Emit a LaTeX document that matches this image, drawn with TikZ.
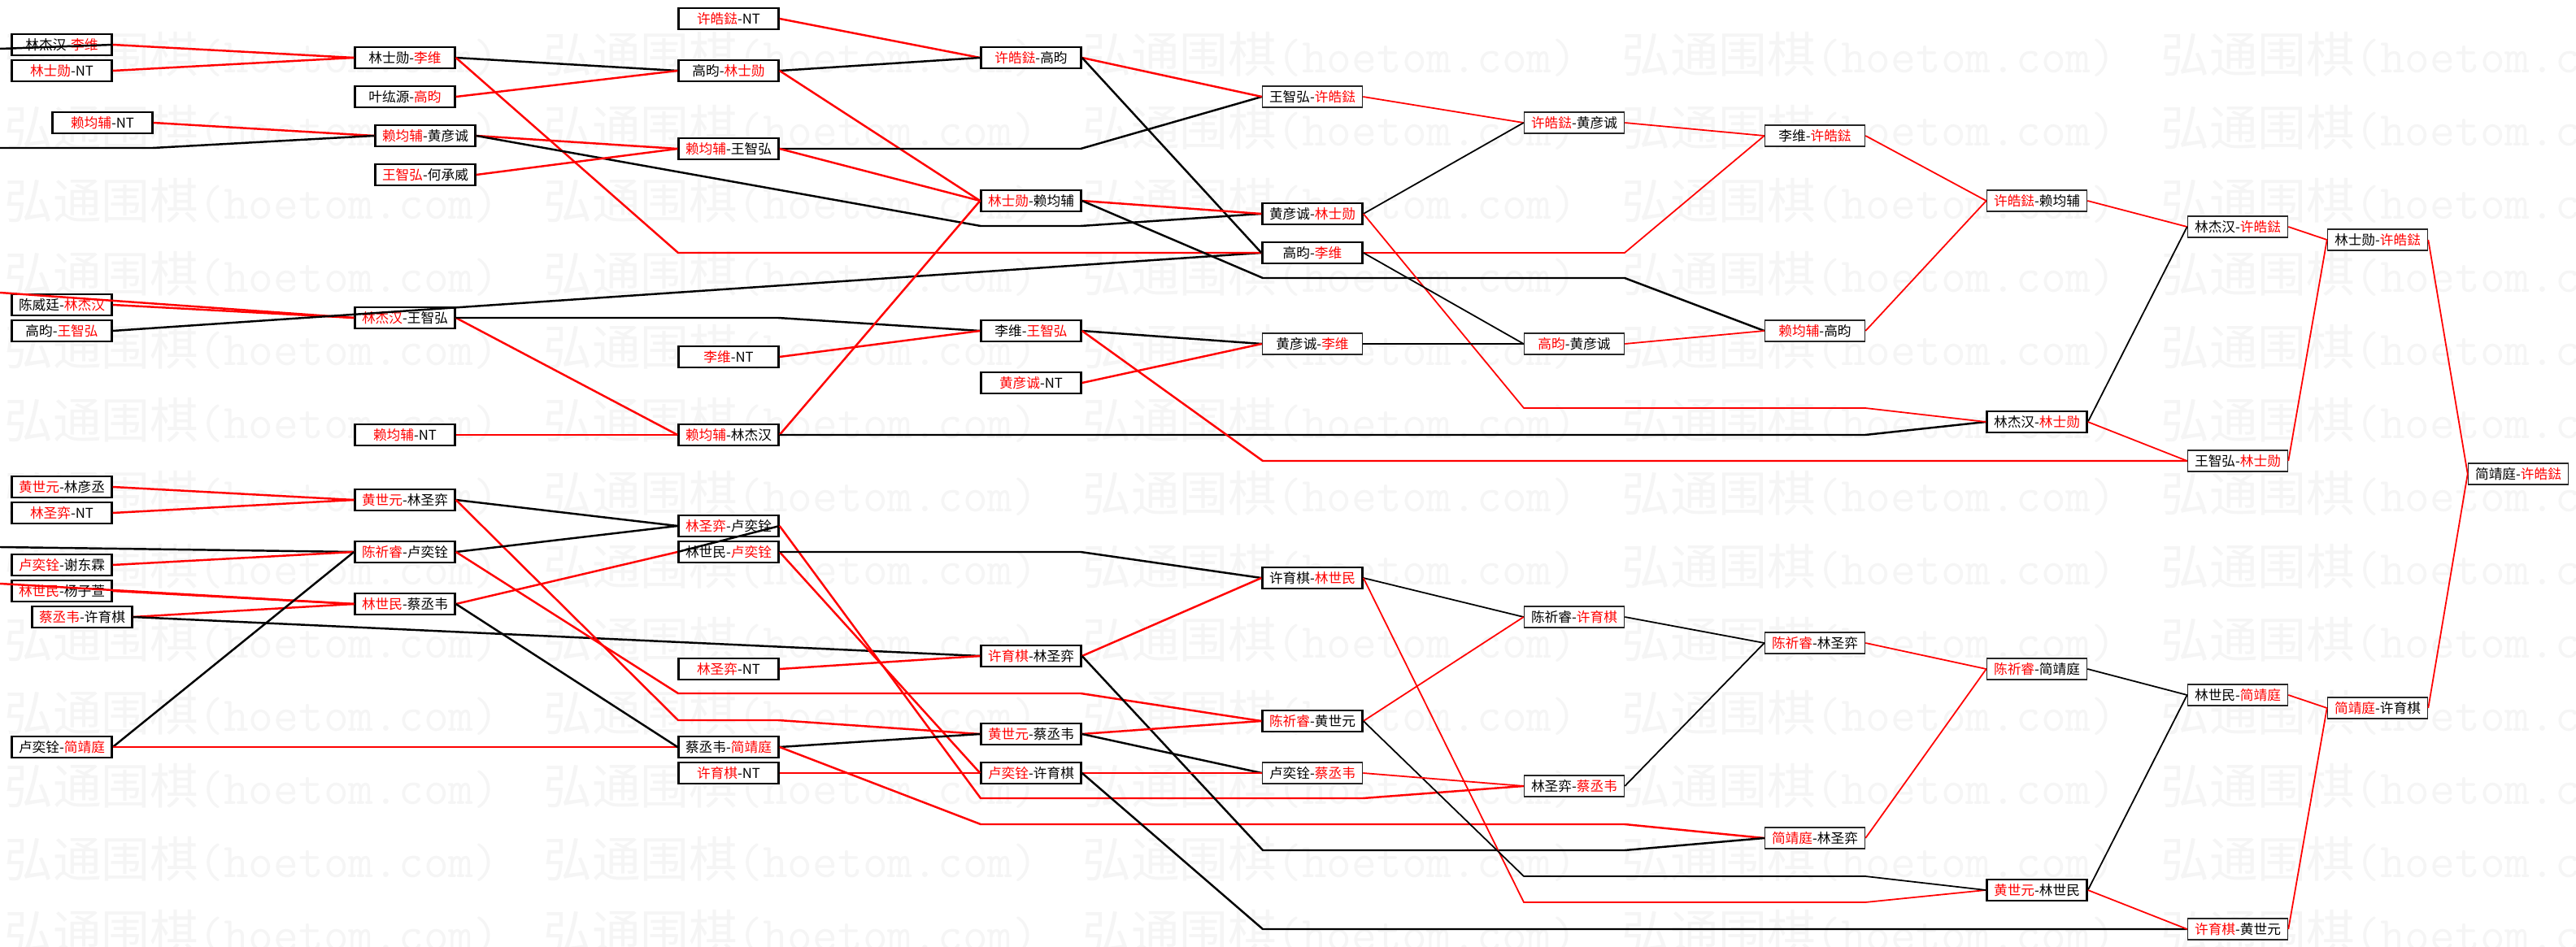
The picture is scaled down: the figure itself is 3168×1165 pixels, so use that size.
\documentclass[tikz,border=0pt]{standalone}
\usepackage{fontspec}
\newfontfamily\cjk{Noto Sans CJK SC}
\usepackage{xcolor}
\usepackage{tikz}
\newcommand{\redl}[2]{\textcolor{red}{#1}-#2}
\newcommand{\redr}[2]{#1-\textcolor{red}{#2}}
\tikzset{
  match/.style={draw=black, line width=1.4pt, fill=white, minimum width=2.46cm, minimum height=0.52cm, inner sep=0pt, font=\cjk\fontsize{9.5}{10}\selectfont},
  matchlite/.style={match, draw=black!85, line width=0.9pt},
  win/.style={red, line width=1.4pt},
  lose/.style={black, line width=1.4pt},
  winl/.style={red, line width=1pt},
  losel/.style={black, line width=1pt},
  hoetom/.style={anchor=west, inner sep=0pt, text=black!4, font=\cjk\fontsize{34}{34}\selectfont}
}
\begin{document}
\begin{tikzpicture}[x=0.02cm, y=-0.02cm]
                \useasboundingbox (0,0) rectangle (3168,1165);
                \foreach \r in {0,...,12} {
                  \foreach \c in {0,...,4} {
                    \node[hoetom] at ({5+663*\c},{67+90*\r}) {弘通围棋\texttt{(hoetom.com)}};
                  }
                }
                \node[match] (a1) at (76,55) {\redr{林杰汉}{李维}};
                \node[match] (a2) at (76,87) {\redl{林士勋}{NT}};
                \node[match] (a3) at (126,151) {\redl{赖均辅}{NT}};
                \node[match] (a4) at (76,375) {\redr{陈威廷}{林杰汉}};
                \node[match] (a5) at (76,407) {\redr{高昀}{王智弘}};
                \node[match] (a6) at (76,599) {\redl{黄世元}{林彦丞}};
                \node[match] (a7) at (76,631) {\redl{林圣弈}{NT}};
                \node[match] (a8) at (76,695) {\redl{卢奕铨}{谢东霖}};
                \node[match] (a9) at (76,727) {\redl{林世民}{杨子萱}};
                \node[match] (a10) at (101,759) {\redl{蔡丞韦}{许育棋}};
                \node[match] (a11) at (76,919) {\redr{卢奕铨}{简靖庭}};
                \node[match] (b1) at (498,71) {\redr{林士勋}{李维}};
                \node[match] (b2) at (498,119) {\redr{叶纮源}{高昀}};
                \node[match] (b3) at (523,167) {\redl{赖均辅}{黄彦诚}};
                \node[match] (b4) at (523,215) {\redl{王智弘}{何承威}};
                \node[match] (b5) at (498,391) {\redl{林杰汉}{王智弘}};
                \node[match] (b6) at (498,535) {\redl{赖均辅}{NT}};
                \node[match] (b7) at (498,615) {\redl{黄世元}{林圣弈}};
                \node[match] (b8) at (498,679) {\redl{陈祈睿}{卢奕铨}};
                \node[match] (b9) at (498,743) {\redl{林世民}{蔡丞韦}};
                \node[match] (c1) at (896,23) {\redl{许皓鍅}{NT}};
                \node[match] (c2) at (896,87) {\redr{高昀}{林士勋}};
                \node[match] (c3) at (896,183) {\redl{赖均辅}{王智弘}};
                \node[match] (c4) at (896,439) {\redl{李维}{NT}};
                \node[match] (c5) at (896,535) {\redl{赖均辅}{林杰汉}};
                \node[match] (c6) at (896,647) {\redl{林圣弈}{卢奕铨}};
                \node[match] (c7) at (896,679) {\redr{林世民}{卢奕铨}};
                \node[match] (c8) at (896,823) {\redl{林圣弈}{NT}};
                \node[match] (c9) at (896,919) {\redr{蔡丞韦}{简靖庭}};
                \node[match] (c10) at (896,951) {\redl{许育棋}{NT}};
                \node[match] (d1) at (1268,71) {\redl{许皓鍅}{高昀}};
                \node[match] (d2) at (1268,247) {\redl{林士勋}{赖均辅}};
                \node[match] (d3) at (1268,407) {\redr{李维}{王智弘}};
                \node[match] (d4) at (1268,471) {\redl{黄彦诚}{NT}};
                \node[match] (d5) at (1268,807) {\redl{许育棋}{林圣弈}};
                \node[match] (d6) at (1268,903) {\redl{黄世元}{蔡丞韦}};
                \node[match] (d7) at (1268,951) {\redl{卢奕铨}{许育棋}};
                \node[matchlite] (e1) at (1614,119) {\redr{王智弘}{许皓鍅}};
                \node[match] (e2) at (1614,263) {\redr{黄彦诚}{林士勋}};
                \node[match] (e3) at (1614,311) {\redr{高昀}{李维}};
                \node[matchlite] (e4) at (1614,423) {\redr{黄彦诚}{李维}};
                \node[match] (e5) at (1614,711) {\redr{许育棋}{林世民}};
                \node[match] (e6) at (1614,887) {\redl{陈祈睿}{黄世元}};
                \node[matchlite] (e7) at (1614,951) {\redr{卢奕铨}{蔡丞韦}};
                \node[matchlite] (f1) at (1936,151) {\redl{许皓鍅}{黄彦诚}};
                \node[matchlite] (f2) at (1936,423) {\redl{高昀}{黄彦诚}};
                \node[matchlite] (f3) at (1936,759) {\redr{陈祈睿}{许育棋}};
                \node[matchlite] (f4) at (1936,967) {\redr{林圣弈}{蔡丞韦}};
                \node[matchlite] (g1) at (2232,167) {\redr{李维}{许皓鍅}};
                \node[matchlite] (g2) at (2232,407) {\redl{赖均辅}{高昀}};
                \node[matchlite] (g3) at (2232,791) {\redl{陈祈睿}{林圣弈}};
                \node[matchlite] (g4) at (2232,1031) {\redl{简靖庭}{林圣弈}};
                \node[matchlite] (h1) at (2505,247) {\redl{许皓鍅}{赖均辅}};
                \node[match] (h2) at (2505,519) {\redr{林杰汉}{林士勋}};
                \node[matchlite] (h3) at (2505,823) {\redl{陈祈睿}{简靖庭}};
                \node[match] (h4) at (2505,1095) {\redl{黄世元}{林世民}};
                \node[matchlite] (i1) at (2752,279) {\redr{林杰汉}{许皓鍅}};
                \node[matchlite] (i2) at (2752,567) {\redr{王智弘}{林士勋}};
                \node[matchlite] (i3) at (2752,855) {\redr{林世民}{简靖庭}};
                \node[matchlite] (i4) at (2752,1143) {\redl{许育棋}{黄世元}};
                \node[matchlite] (j1) at (2924,295) {\redr{林士勋}{许皓鍅}};
                \node[matchlite] (j2) at (2924,871) {\redl{简靖庭}{许育棋}};
                \node[matchlite] (k1) at (3097,583) {\redr{简靖庭}{许皓鍅}};
                \coordinate (la) at (0,60);
                \coordinate (lb) at (0,182);
                \coordinate (lc) at (0,360);
                \coordinate (ld) at (0,673);
                \coordinate (le) at (0,718);
                \draw[lose] (la) -- (a1.east);
                \draw[win] (a1.east) -- (b1.west);
                \draw[win] (a2.east) -- (b1.west);
                \draw[win] (a3.east) -- (b3.west);
                \draw[lose] (lb) -- (188,182) -- (b3.west);
                \draw[win] (lc) -- (b5.west);
                \draw[win] (a4.east) -- (b5.west);
                \draw[lose] (a5.east) -- (e3.west);
                \draw[lose] (ld) -- (b8.west);
                \draw[win] (le) -- (b9.west);
                \draw[win] (a6.east) -- (b7.west);
                \draw[win] (a7.east) -- (b7.west);
                \draw[win] (a8.east) -- (b8.west);
                \draw[win] (a9.east) -- (b9.west);
                \draw[win] (a10.east) -- (b9.west);
                \draw[lose] (a10.east) -- (d5.west);
                \draw[lose] (a11.east) -- (b8.west);
                \draw[win] (a11.east) -- (c9.west);
                \draw[lose] (b1.east) -- (c2.west);
                \draw[win] (b1.east) -- (834,311) -- (e3.west);
                \draw[win] (b2.east) -- (c2.west);
                \draw[win] (b3.east) -- (c3.west);
                \draw[lose] (b3.east) -- (1206,278) -- (1329,278) -- (e2.west);
                \draw[win] (b4.east) -- (c3.west);
                \draw[win] (b5.east) -- (c5.west);
                \draw[lose] (b5.east) -- (957,391) -- (d3.west);
                \draw[win] (b6.east) -- (c5.west);
                \draw[lose] (b7.east) -- (c6.west);
                \draw[win] (b7.east) -- (834,886) -- (957,886) -- (d6.west);
                \draw[lose] (b8.east) -- (c6.west);
                \draw[win] (b8.east) -- (834,853) -- (1329,853) -- (e6.west);
                \draw[win] (b9.east) -- (c7.west);
                \draw[lose] (b9.east) -- (c9.west);
                \draw[win] (c1.east) -- (d1.west);
                \draw[lose] (c2.east) -- (d1.west);
                \draw[win] (c2.east) -- (d2.west);
                \draw[lose] (c3.east) -- (1329,183) -- (e1.west);
                \draw[win] (c3.east) -- (d2.west);
                \draw[win] (c4.east) -- (d3.west);
                \draw[win] (c5.east) -- (d2.west);
                \draw[lose] (c5.east) -- (2294,535) -- (h2.west);
                \draw[lose] (c6.east) -- (c7.west);
                \draw[win] (c6.east) -- (1206,982) -- (1676,982) -- (f4.west);
                \draw[win] (c7.east) -- (d7.west);
                \draw[lose] (c7.east) -- (1329,679) -- (e5.west);
                \draw[win] (c8.east) -- (d5.west);
                \draw[lose] (c9.east) -- (d6.west);
                \draw[win] (c9.east) -- (1206,1014) -- (1998,1014) -- (g4.west);
                \draw[win] (c10.east) -- (d7.west);
                \draw[win] (d1.east) -- (e1.west);
                \draw[lose] (d1.east) -- (e3.west);
                \draw[win] (d2.east) -- (e2.west);
                \draw[lose] (d2.east) -- (1553,342) -- (1998,342) -- (g2.west);
                \draw[lose] (d3.east) -- (e4.west);
                \draw[win] (d3.east) -- (1553,567) -- (i2.west);
                \draw[win] (d4.east) -- (e4.west);
                \draw[win] (d5.east) -- (e5.west);
                \draw[lose] (d5.east) -- (1553,1046) -- (1998,1046) -- (g4.west);
                \draw[win] (d6.east) -- (e6.west);
                \draw[lose] (d6.east) -- (e7.west);
                \draw[win] (d7.east) -- (e7.west);
                \draw[lose] (d7.east) -- (1553,1143) -- (i4.west);
                \draw[winl] (e1.east) -- (f1.west);
                \draw[losel] (e2.east) -- (f1.west);
                \draw[winl] (e2.east) -- (1874,502) -- (2294,502) -- (h2.west);
                \draw[winl] (e3.east) -- (1998,311) -- (g1.west);
                \draw[losel] (e3.east) -- (f2.west);
                \draw[losel] (e4.east) -- (f2.west);
                \draw[losel] (e5.east) -- (f3.west);
                \draw[winl] (e5.east) -- (1874,1110) -- (2294,1110) -- (h4.west);
                \draw[winl] (e6.east) -- (f3.west);
                \draw[losel] (e6.east) -- (1874,1078) -- (2294,1078) -- (h4.west);
                \draw[winl] (e7.east) -- (f4.west);
                \draw[winl] (f1.east) -- (g1.west);
                \draw[winl] (f2.east) -- (g2.west);
                \draw[losel] (f3.east) -- (g3.west);
                \draw[losel] (f4.east) -- (g3.west);
                \draw[winl] (g1.east) -- (h1.west);
                \draw[winl] (g2.east) -- (h1.west);
                \draw[winl] (g3.east) -- (h3.west);
                \draw[winl] (g4.east) -- (h3.west);
                \draw[winl] (h1.east) -- (i1.west);
                \draw[losel] (h2.east) -- (i1.west);
                \draw[winl] (h2.east) -- (i2.west);
                \draw[losel] (h3.east) -- (i3.west);
                \draw[losel] (h4.east) -- (i3.west);
                \draw[winl] (h4.east) -- (i4.west);
                \draw[winl] (i1.east) -- (j1.west);
                \draw[winl] (i2.east) -- (j1.west);
                \draw[winl] (i3.east) -- (j2.west);
                \draw[winl] (i4.east) -- (j2.west);
                \draw[winl] (j1.east) -- (k1.west);
                \draw[winl] (j2.east) -- (k1.west);
\end{tikzpicture}
\end{document}
